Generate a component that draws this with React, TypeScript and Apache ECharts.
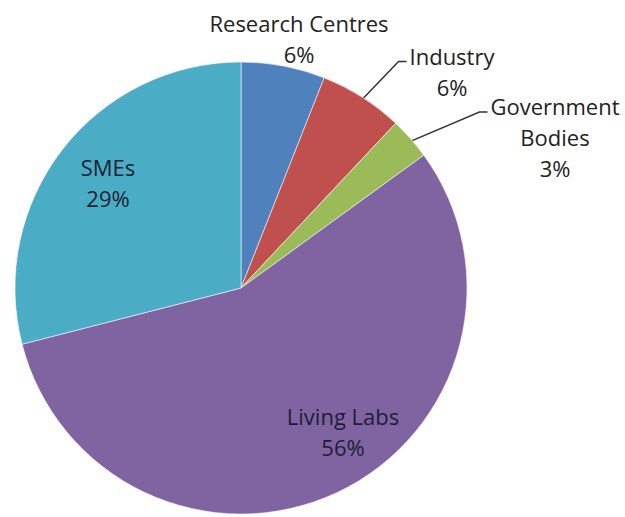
import React, { useEffect, useRef } from 'react';
import * as echarts from 'echarts';

// ---- data ----
const CATEGORIES = ['Research Centres', 'Industry', 'Government Bodies', 'Living Labs', 'SMEs'];
const VALUES = [6, 6, 3, 56, 29];
const LABEL_TEXTS = ['Research Centres', 'Industry', 'Government\nBodies', 'Living Labs', 'SMEs'];
const COLORS = ['#4F81BD', '#C0504D', '#9BBB59', '#8064A2', '#4BACC6'];

// ---- layout (not data) ----
const PIE_CENTER = [241, 288];
const PIE_RADIUS = 226;
const LABEL_CENTRES = [
  [299, 38],
  [452, 71],
  [555, 137],
  [343, 431],
  [108, 182],
];
const HAS_LEADER = [false, true, true, false, false];
const INSIDE = [false, false, false, true, true];
const LINE_HEIGHT = 31;

export default function App() {
  const ref = useRef<HTMLDivElement>(null);

  useEffect(() => {
    document.body.style.margin = '0';
    if (!ref.current) return;
    const chart = echarts.init(ref.current, undefined, { renderer: 'svg' });

    const data = CATEGORIES.map((name, i) => ({
      name,
      value: VALUES[i],
      itemStyle: { color: COLORS[i] },
      label: {
        position: INSIDE[i] ? 'inside' : 'outside',
        color: INSIDE[i] ? '#1c1f33' : '#222222',
      },
      labelLine: { show: HAS_LEADER[i] },
    }));

    chart.setOption({
      animation: false,
      backgroundColor: '#ffffff',
      series: [
        {
          type: 'pie',
          center: PIE_CENTER,
          radius: PIE_RADIUS,
          startAngle: 90,
          clockwise: true,
          avoidLabelOverlap: false,
          silent: true,
          itemStyle: {
            borderColor: 'rgba(255,255,255,0.55)',
            borderWidth: 1,
          },
          label: {
            show: true,
            fontFamily: 'Open Sans',
            fontSize: 22,
            lineHeight: LINE_HEIGHT,
            align: 'center',
            formatter: (p: any) => `${LABEL_TEXTS[p.dataIndex]}\n${Math.round(p.percent)}%`,
          },
          labelLine: {
            show: true,
            length: 20,
            length2: 10,
            lineStyle: { color: '#333333', width: 1.5 },
          },
          labelLayout: (params: any) => {
            const i = params.dataIndex;
            const [cx, cy] = LABEL_CENTRES[i];
            const w = params.labelRect.width;
            const h = params.labelRect.height;
            const res: any = { x: cx, y: cy, align: 'center', verticalAlign: 'middle' };
            if (HAS_LEADER[i] && params.labelLinePoints) {
              const top = cy - h / 2;
              const endX = cx - w / 2 - 3;
              const endY = top + LINE_HEIGHT / 2 + 6;
              const p0 = params.labelLinePoints[0];
              const vx = PIE_CENTER[0] - p0[0];
              const vy = PIE_CENTER[1] - p0[1];
              const len = Math.sqrt(vx * vx + vy * vy) || 1;
              const start = [p0[0] + (vx / len) * 8, p0[1] + (vy / len) * 8];
              res.labelLinePoints = [start, [endX - 8, endY], [endX, endY]];
            }
            return res;
          },
          data,
        },
      ],
    });

    return () => chart.dispose();
  }, []);

  return <div ref={ref} style={{ width: 625, height: 517 }} />;
}
